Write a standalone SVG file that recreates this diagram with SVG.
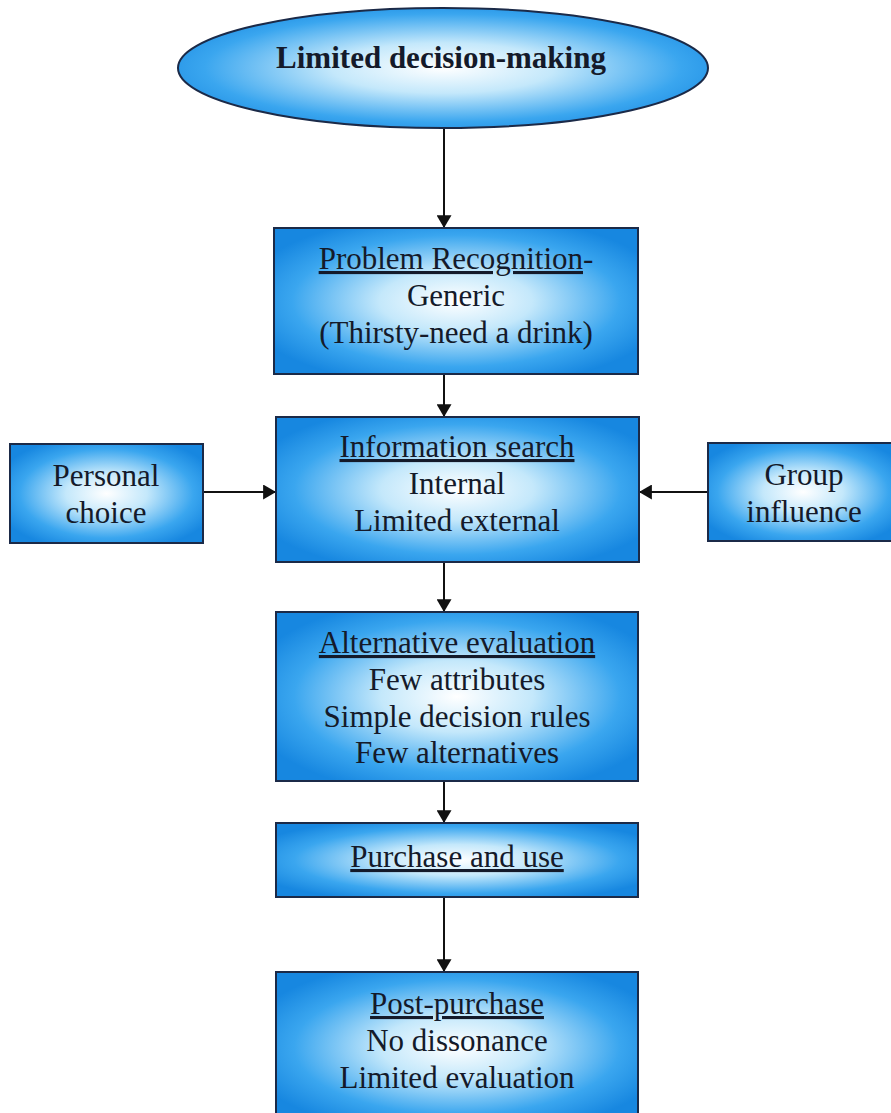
<svg xmlns="http://www.w3.org/2000/svg" width="891" height="1113" viewBox="0 0 891 1113">
  <defs>
    <radialGradient id="glow" cx="50%" cy="50%" r="60%">
      <stop offset="0" stop-color="#ffffff"/>
      <stop offset="0.35" stop-color="#c4e8fb"/>
      <stop offset="0.75" stop-color="#3aa6ef"/>
      <stop offset="1" stop-color="#1787e0"/>
    </radialGradient>
    <marker id="head" viewBox="0 0 12 14" refX="12" refY="7" markerWidth="13" markerHeight="15" markerUnits="userSpaceOnUse" orient="auto">
      <path d="M0,0 L12,7 L0,14 Z" fill="#111"/>
    </marker>
  </defs>
  <style>
    .box { fill: url(#glow); stroke: #1b2a48; stroke-width: 2; }
    .txt { font-family: "Liberation Serif", "Times New Roman", serif; font-size: 31px; fill: #141a2a; text-anchor: middle; }
    .title { font-family: "Liberation Serif", "Times New Roman", serif; font-size: 31px; font-weight: bold; fill: #141a2a; text-anchor: middle; }
    .u { text-decoration: underline; }
    .conn { stroke: #111; stroke-width: 2; fill: none; marker-end: url(#head); }
  </style>

  <rect width="891" height="1113" fill="#ffffff"/>

  <g id="connectors">
    <line class="conn" x1="444" y1="128" x2="444" y2="228"/>
    <line class="conn" x1="444" y1="374" x2="444" y2="417"/>
    <line class="conn" x1="444" y1="562" x2="444" y2="612"/>
    <line class="conn" x1="444" y1="781" x2="444" y2="823"/>
    <line class="conn" x1="444" y1="897" x2="444" y2="972"/>
    <line class="conn" x1="203" y1="492" x2="276" y2="492"/>
    <line class="conn" x1="708" y1="492" x2="639" y2="492"/>
  </g>

  <g id="limited-decision-making">
    <ellipse class="box" cx="443" cy="68" rx="265" ry="60"/>
    <text class="title" x="441" y="68">Limited decision-making</text>
  </g>

  <g id="problem-recognition">
    <rect class="box" x="274" y="228" width="364" height="146"/>
    <text class="txt" x="456" y="269"><tspan class="u">Problem Recognition</tspan>-</text>
    <text class="txt" x="456" y="306">Generic</text>
    <text class="txt" x="456" y="343">(Thirsty-need a drink)</text>
  </g>

  <g id="information-search">
    <rect class="box" x="276" y="417" width="363" height="145"/>
    <text class="txt u" x="457" y="457">Information search</text>
    <text class="txt" x="457" y="494">Internal</text>
    <text class="txt" x="457" y="531">Limited external</text>
  </g>

  <g id="personal-choice">
    <rect class="box" x="10" y="444" width="193" height="99"/>
    <text class="txt" x="106" y="486">Personal</text>
    <text class="txt" x="106" y="523">choice</text>
  </g>

  <g id="group-influence">
    <rect class="box" x="708" y="443" width="190" height="98"/>
    <text class="txt" x="804" y="485">Group</text>
    <text class="txt" x="804" y="522">influence</text>
  </g>

  <g id="alternative-evaluation">
    <rect class="box" x="276" y="612" width="362" height="169"/>
    <text class="txt u" x="457" y="653">Alternative evaluation</text>
    <text class="txt" x="457" y="690">Few attributes</text>
    <text class="txt" x="457" y="727">Simple decision rules</text>
    <text class="txt" x="457" y="763">Few alternatives</text>
  </g>

  <g id="purchase-and-use">
    <rect class="box" x="276" y="823" width="362" height="74"/>
    <text class="txt u" x="457" y="867">Purchase and use</text>
  </g>

  <g id="post-purchase">
    <rect class="box" x="276" y="972" width="362" height="150"/>
    <text class="txt u" x="457" y="1014">Post-purchase</text>
    <text class="txt" x="457" y="1051">No dissonance</text>
    <text class="txt" x="457" y="1088">Limited evaluation</text>
  </g>
</svg>
